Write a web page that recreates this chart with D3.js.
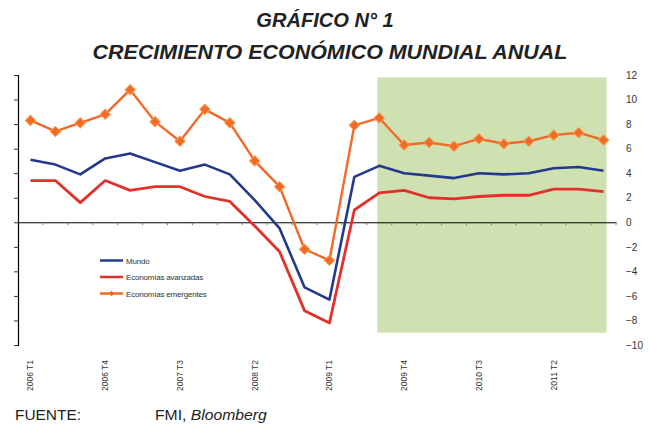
<!DOCTYPE html>
<html>
<head>
<meta charset="utf-8">
<script src="https://cdn.jsdelivr.net/npm/d3@7"></script>
<style>
  html, body { margin: 0; padding: 0; background: #fff; }
  svg { display: block; font-family: Arial, "Liberation Sans", sans-serif; }
</style>
</head>
<body>
<svg id="chart" width="649" height="426"></svg>
<script>
// ---- Data ----
const quarters = [
  "2006 T1","2006 T2","2006 T3","2006 T4",
  "2007 T1","2007 T2","2007 T3","2007 T4",
  "2008 T1","2008 T2","2008 T3","2008 T4",
  "2009 T1","2009 T2","2009 T3","2009 T4",
  "2010 T1","2010 T2","2010 T3","2010 T4",
  "2011 T1","2011 T2","2011 T3","2011 T4"
];
const tickLabels = ["2006 T1","2006 T4","2007 T3","2008 T2","2009 T1","2009 T4","2010 T3","2011 T2"];
const mundo = [5.1, 4.7, 3.9, 5.2, 5.6, 4.9, 4.2, 4.7, 3.9, 1.8, -0.5, -5.3, -6.3,
               3.7, 4.6, 4.0, 3.8, 3.6, 4.0, 3.9, 4.0, 4.4, 4.5, 4.2];
const avanzadas = [3.4, 3.4, 1.6, 3.4, 2.6, 2.9, 2.9, 2.1, 1.7, -0.3, -2.4, -7.2, -8.2,
                   1.0, 2.4, 2.6, 2.0, 1.9, 2.1, 2.2, 2.2, 2.7, 2.7, 2.5];
const emergentes = [8.3, 7.4, 8.1, 8.8, 10.8, 8.2, 6.6, 9.2, 8.1, 5.0, 2.9, -2.2, -3.1,
                    7.9, 8.5, 6.3, 6.5, 6.2, 6.8, 6.4, 6.6, 7.1, 7.3, 6.7];
const yTicks = [-10, -8, -6, -4, -2, 0, 2, 4, 6, 8, 10, 12];
const shadeStart = "2009 T3", shadeEnd = "2011 T4";
const seriesNames = ["Mundo", "Economías avanzadas", "Economías emergentes"];
const seriesColors = ["#233a8c", "#e2302b", "#f26a2a"];

(function () {
// ---- Layout ----
const svg = d3.select("#chart");
const pLeft = 18, pRight = 616, pTop = 75, pBottom = 345;

const x = d3.scaleBand().domain(quarters).range([pLeft, pRight]).padding(0);
const y = d3.scaleLinear().domain([-10, 12]).range([pBottom, pTop]);
const cx = q => x(q) + x.bandwidth() / 2;

// shaded forecast region
svg.append("rect")
  .attr("x", cx(shadeStart) - 2)
  .attr("y", y(11.8))
  .attr("width", cx(shadeEnd) + 3 - (cx(shadeStart) - 2))
  .attr("height", y(-9) - y(11.8))
  .attr("fill", "#cfe0b1");

// left axis (no labels)
const yAxisL = d3.axisLeft(y).tickValues(yTicks).tickSize(4).tickFormat("");
const gL = svg.append("g").attr("transform", `translate(${pLeft},0)`).call(yAxisL);
gL.select(".domain").attr("stroke", "#000").attr("stroke-width", 1.2);
gL.selectAll(".tick line").attr("stroke", "#333");

// right labels
const yAxisR = d3.axisRight(y).tickValues(yTicks).tickSize(0).tickPadding(0).tickFormat(d3.format("d"));
const gR = svg.append("g").attr("transform", `translate(626,0)`).call(yAxisR);
gR.select(".domain").remove();
gR.selectAll("text").attr("font-size", 10).attr("fill", "#333").attr("font-family", "Arial, 'Liberation Sans', sans-serif");

// zero line with category ticks
const xAxis = d3.axisBottom(x).tickValues([]).tickSizeOuter(0);
const gX = svg.append("g").attr("transform", `translate(0,${y(0)})`).call(xAxis);
gX.select(".domain").attr("stroke", "#000").attr("stroke-width", 1);
svg.append("g").selectAll("line")
  .data(quarters.slice(1).concat(["__end"]))
  .join("line")
  .attr("x1", (d, i) => i < quarters.length - 1 ? x(d) : pRight)
  .attr("x2", (d, i) => i < quarters.length - 1 ? x(d) : pRight)
  .attr("y1", y(0))
  .attr("y2", y(0) + 3)
  .attr("stroke", "#666")
  .attr("stroke-width", 0.8);

// category labels (rotated)
svg.append("g").selectAll("text")
  .data(tickLabels)
  .join("text")
  .attr("transform", d => `translate(${cx(d) + 3},360) rotate(-90)`)
  .attr("text-anchor", "end")
  .attr("font-size", 8.5)
  .attr("fill", "#333")
  .text(d => d);

// lines
const line = d3.line().x((d, i) => cx(quarters[i])).y(d => y(d));
const allSeries = [mundo, avanzadas, emergentes];
const widths = [2.6, 2.8, 2.4];
allSeries.forEach((s, k) => {
  svg.append("path")
    .datum(s)
    .attr("d", line)
    .attr("fill", "none")
    .attr("stroke", seriesColors[k])
    .attr("stroke-width", widths[k])
    .attr("stroke-linejoin", "round");
});

// diamond markers on emergentes (square rotated 45deg)
const diamond = d3.symbol().type(d3.symbolSquare).size(52);
svg.append("g").selectAll("path")
  .data(emergentes)
  .join("path")
  .attr("transform", (d, i) => `translate(${cx(quarters[i])},${y(d)}) rotate(45)`)
  .attr("d", diamond)
  .attr("fill", "#f26a2a")
  .attr("stroke", "#f8953f")
  .attr("stroke-width", 1);

// legend
const legY = [260.5, 277, 293.5];
const lg = svg.append("g");
seriesNames.forEach((n, k) => {
  lg.append("line").attr("x1", 100).attr("x2", 123).attr("y1", legY[k]).attr("y2", legY[k])
    .attr("stroke", seriesColors[k]).attr("stroke-width", 2.5);
  if (k === 2) {
    lg.append("path").attr("transform", `translate(111.5,${legY[k]}) rotate(45)`)
      .attr("d", d3.symbol().type(d3.symbolSquare).size(16)).attr("fill", "#f26a2a");
  }
  lg.append("text").attr("x", 126).attr("y", legY[k] + 3)
    .attr("font-size", 8).attr("fill", "#333").attr("letter-spacing", -0.2).text(n);
});

// titles
svg.append("text").attr("transform", "translate(325,27) scale(1.03,1)").attr("text-anchor", "middle")
  .attr("font-size", 19.5).attr("font-weight", "bold").attr("font-style", "italic")
  .attr("fill", "#222").text("GRÁFICO N° 1");
svg.append("text").attr("transform", "translate(330,59) scale(1.1,1)").attr("text-anchor", "middle")
  .attr("font-size", 19.5).attr("font-weight", "bold").attr("font-style", "italic")
  .attr("fill", "#222").text("CRECIMIENTO ECONÓMICO MUNDIAL ANUAL");

// footer
svg.append("text").attr("transform", "translate(15,420) scale(1.08,1)").attr("font-size", 14.3)
  .attr("fill", "#222").text("FUENTE:");
const f = svg.append("text").attr("transform", "translate(155,420) scale(1.1,1)").attr("font-size", 14.3)
  .attr("fill", "#222");
f.append("tspan").text("FMI, ");
f.append("tspan").attr("font-style", "italic").text("Bloomberg");
})();
</script>
</body>
</html>
